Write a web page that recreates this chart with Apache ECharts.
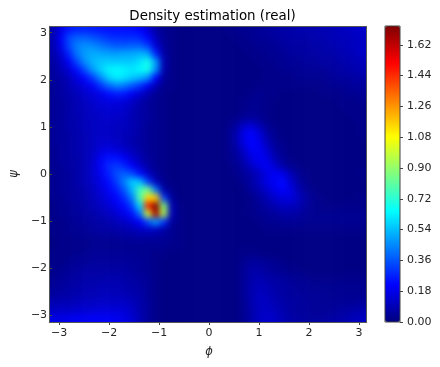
<!DOCTYPE html>
<html>
<head>
<meta charset="utf-8">
<title>Density estimation (real)</title>
<script src="https://cdn.jsdelivr.net/npm/echarts@6/dist/echarts.min.js"></script>
<style>
html, body { margin: 0; padding: 0; background: #fff; }
#clip { position: absolute; left: 49px; top: 26px; width: 317px; height: 296px; overflow: hidden; }
#heat { position: absolute; left: -8px; top: -8px; width: 333px; height: 312px; filter: blur(3px); }
#axes { position: absolute; left: 0; top: 0; width: 440px; height: 367px; }
#frame { position: absolute; left: 49px; top: 26px; width: 316px; height: 295px; border: 1px solid #555; pointer-events: none; }
</style>
</head>
<body>
<div id="clip"><div id="heat"></div></div>
<div id="axes"></div>
<div id="frame"></div>
<script>
// density, in hundredths, top row is psi = +pi, left column is phi = -pi
var densityRows = [
	[8,17,25,27,27,26,25,24,24,24, 24,22,15,7,3,2,1,1,1,1, 1,1,2,2,3,3,4,5,6,7, 7,8,8,8,9,9,10,11,12,13],
	[8,20,33,38,38,36,33,30,29,29, 29,28,22,10,4,2,1,1,1,1, 1,1,1,2,2,3,4,4,5,6, 7,7,7,8,8,9,10,10,11,12],
	[8,18,33,43,46,45,42,39,37,37, 38,38,32,15,5,2,1,1,1,1, 1,1,1,1,2,2,3,3,4,5, 6,6,6,7,7,8,9,10,11,12],
	[7,14,27,41,48,51,50,49,48,50, 50,52,50,27,7,2,1,1,1,1, 1,1,1,1,1,2,2,3,3,4, 5,5,6,6,7,7,8,9,10,12],
	[6,11,20,33,45,52,55,56,56,56, 56,60,68,48,9,2,1,1,1,1, 1,1,1,1,1,1,2,2,3,3, 4,4,5,5,6,6,7,8,9,10],
	[5,9,14,23,34,47,56,63,64,63, 61,64,68,46,8,2,1,1,1,1, 1,1,1,1,1,1,1,2,2,3, 3,3,4,4,4,5,6,7,8,9],
	[5,7,10,16,22,31,44,56,62,60, 56,52,46,22,5,2,1,1,1,1, 1,1,1,1,1,1,1,2,2,2, 2,3,3,3,3,4,5,5,6,7],
	[4,6,9,12,16,20,29,38,44,42, 36,30,20,9,3,2,1,1,1,1, 1,1,1,1,1,1,2,2,2,2, 2,2,2,2,2,3,3,4,5,5],
	[4,6,8,10,13,15,18,23,26,25, 20,14,8,4,2,1,1,1,1,1, 1,1,1,1,1,2,3,2,2,1, 1,1,1,1,2,2,2,3,3,4],
	[4,5,7,9,11,13,15,16,16,15, 12,8,5,3,2,1,1,1,1,1, 1,1,1,1,2,3,3,2,1,1, 1,1,1,1,1,1,2,2,2,3],
	[4,5,7,9,10,12,13,14,14,13, 10,7,5,3,2,1,1,1,1,1, 1,1,1,1,2,3,3,2,1,1, 1,1,1,1,1,1,1,2,2,2],
	[4,5,7,8,10,11,12,13,12,12, 9,7,5,3,2,1,1,1,1,1, 1,1,1,2,4,5,4,2,1,1, 1,1,1,1,1,1,1,1,2,2],
	[4,5,7,8,10,11,12,12,11,11, 9,7,4,3,2,1,1,1,1,1, 1,1,2,5,12,15,10,4,2,1, 1,1,1,1,1,1,1,1,1,2],
	[4,5,6,8,9,11,12,12,11,10, 9,6,4,3,2,1,1,1,1,1, 1,1,2,7,17,22,16,7,3,1, 1,1,1,1,1,1,1,1,1,2],
	[4,5,6,8,9,11,13,13,12,10, 8,6,4,3,2,1,1,1,1,1, 1,1,2,7,16,22,19,10,4,2, 1,1,1,1,1,1,1,1,1,1],
	[3,5,6,8,9,11,15,17,15,13, 10,7,4,3,2,1,1,1,1,1, 1,1,2,5,12,20,20,14,6,3, 1,1,1,1,1,1,1,1,1,1],
	[3,5,6,7,9,12,19,24,24,20, 14,9,5,3,2,1,1,1,1,1, 1,1,2,4,9,16,20,17,9,4, 2,1,1,1,1,1,1,1,1,1],
	[3,4,6,7,9,13,20,28,31,28, 21,13,7,3,2,1,1,1,1,1, 1,1,1,3,6,12,17,20,14,7, 3,2,1,1,1,1,1,1,1,1],
	[3,4,5,7,9,13,19,26,34,38, 34,24,12,5,2,1,1,1,1,1, 1,1,1,2,4,7,11,17,20,18, 10,4,2,1,1,1,1,1,1,2],
	[3,4,5,7,9,12,17,23,31,43, 56,54,32,10,3,1,1,1,1,1, 1,1,1,1,3,6,11,17,20,23, 14,6,3,1,1,1,1,1,1,1],
	[3,4,5,6,8,11,15,20,26,36, 52,76,85,42,7,2,1,1,1,1, 1,1,1,1,1,5,8,13,18,21, 17,9,4,2,1,1,1,1,1,1],
	[3,3,5,6,7,10,13,17,22,29, 43,78,115,115,32,5,1,1,1,1, 1,1,1,1,1,2,5,9,13,16, 16,11,6,3,2,1,1,1,1,2],
	[2,3,4,5,7,9,11,14,18,23, 33,60,145,173,88,9,2,1,1,1, 1,1,1,1,1,2,4,6,9,11, 11,9,5,3,2,2,2,2,2,2],
	[2,3,4,5,6,7,9,11,14,18, 24,40,100,165,95,10,2,1,1,1, 1,1,1,1,1,2,3,4,5,7, 7,6,4,3,3,3,3,3,3,3],
	[2,2,3,4,5,6,7,8,10,12, 15,21,34,48,30,5,2,1,1,1, 1,1,1,1,1,1,2,3,3,4, 4,4,3,3,3,3,3,3,3,3],
	[2,2,3,3,4,5,6,6,7,8, 9,11,12,11,7,3,2,1,1,1, 1,1,1,1,1,1,1,2,2,2, 2,2,2,2,2,2,2,2,2,2],
	[1,2,2,3,3,3,4,4,4,5, 5,6,5,5,4,3,2,1,1,1, 1,1,1,1,1,1,1,1,1,1, 1,1,1,1,1,1,1,1,1,1],
	[1,2,2,2,2,3,3,3,3,3, 3,3,3,3,3,2,2,1,1,1, 1,1,1,1,1,1,1,1,1,1, 1,1,1,1,1,1,1,1,1,1],
	[2,2,2,3,3,4,4,4,4,4, 4,3,3,2,2,1,1,1,1,1, 1,1,1,1,2,2,2,1,1,1, 1,1,1,1,1,1,1,1,1,1],
	[2,2,3,4,4,5,5,5,5,5, 4,4,3,2,1,1,1,1,1,1, 1,1,1,1,3,5,5,4,3,2, 1,1,1,1,1,1,1,1,1,1],
	[2,3,4,5,6,6,6,6,6,6, 5,4,3,2,1,1,1,1,1,1, 1,1,1,1,4,7,7,5,4,3, 2,2,1,1,1,1,1,1,1,1],
	[3,4,5,6,7,7,7,8,8,7, 6,5,4,2,1,1,1,1,1,1, 1,1,1,1,4,7,9,7,6,5, 4,3,3,2,2,2,2,2,2,2],
	[4,5,6,7,8,8,9,9,9,8, 7,6,4,2,1,1,1,1,1,1, 1,1,1,1,4,8,10,9,7,6, 5,4,4,3,3,3,3,3,3,3],
	[5,6,7,8,9,9,10,10,10,9, 8,7,4,2,1,1,1,1,1,1, 1,1,1,1,4,8,11,10,8,6, 5,5,4,4,4,3,3,3,3,3],
	[8,9,9,10,11,11,12,12,12,12, 10,8,5,2,1,1,1,1,1,1, 1,1,1,1,3,8,11,11,9,7, 6,5,5,4,4,4,4,4,4,5],
	[11,12,12,13,14,14,15,15,15,14, 12,8,5,2,1,1,1,1,1,1, 1,1,1,1,3,7,11,12,10,8, 6,5,5,4,4,4,5,6,7,8],
	[17,17,18,19,19,20,20,20,19,17, 14,9,5,2,1,1,1,1,1,1, 1,1,1,1,3,7,11,13,12,9, 7,6,5,5,5,6,7,8,10,11]
];
var angleTicks = [-3, -2, -1, 0, 1, 2, 3];
var barTicks = [0, 0.18, 0.36, 0.54, 0.72, 0.9, 1.08, 1.26, 1.44, 1.62];
var densityMax = 1.73;
var jet = ['#00007f', '#0000ff', '#007fff', '#00ffff', '#7fff7f', '#ffff00', '#ff7f00', '#ff0000', '#7f0000'];

var textColor = '#262626';
var lineColor = '#444';
var font = 'DejaVu Sans';

// the blur samples past the edge, so one extra row and column is repeated all round
var nRows = densityRows.length, nCols = densityRows[0].length;
var heatData = [], xCats = [], yCats = [];
for (var r = -1; r <= nRows; r++) {
	yCats.push('r' + r);
	for (var c = -1; c <= nCols; c++) {
		var row = densityRows[Math.min(nRows - 1, Math.max(0, r))];
		heatData.push([c + 1, nRows - r, row[Math.min(nCols - 1, Math.max(0, c))] / 100]);
	}
}
for (var c = -1; c <= nCols; c++) xCats.push('c' + c);

var heatChart = echarts.init(document.getElementById('heat'));
heatChart.setOption({
	animation: false,
	grid: { left: 0, right: 0, top: 0, bottom: 0 },
	xAxis: { type: 'category', data: xCats, show: false },
	yAxis: { type: 'category', data: yCats, show: false },
	visualMap: { show: false, min: 0, max: densityMax, inRange: { color: jet } },
	series: [{ type: 'heatmap', data: heatData, progressive: 0 }]
});

function angleLabel(v) {
	return String(v).replace('-', '\u2212');
}

var axesChart = echarts.init(document.getElementById('axes'));
axesChart.setOption({
	animation: false,
	title: {
		text: 'Density estimation (real)',
		left: 207.5, top: 5, textAlign: 'center',
		textStyle: { color: '#000', fontFamily: font, fontSize: 13.4, fontWeight: 'normal' }
	},
	grid: [
		{ left: 49, top: 26, width: 317, height: 296 },
		{ left: 385, top: 26, width: 15, height: 296, show: true, borderColor: lineColor, borderWidth: 1, backgroundColor: 'transparent', z: 10 }
	],
	xAxis: [
		{
			type: 'value', gridIndex: 0, min: -Math.PI, max: Math.PI,
			name: '\u03d5', nameLocation: 'middle', nameGap: 24,
			nameTextStyle: { color: textColor, fontFamily: font, fontSize: 11.5, fontStyle: 'italic' },
			splitLine: { show: false },
			axisLine: { show: false, onZero: false },
			axisTick: { show: true, customValues: angleTicks, length: 3, lineStyle: { color: lineColor } },
			axisLabel: { customValues: angleTicks, formatter: angleLabel, color: textColor, fontFamily: font, fontSize: 11, margin: 6 }
		},
		{ type: 'value', gridIndex: 1, min: 0, max: 1, show: false }
	],
	yAxis: [
		{
			type: 'value', gridIndex: 0, min: -Math.PI, max: Math.PI,
			name: '\u03c8', nameLocation: 'middle', nameGap: 30,
			nameTextStyle: { color: textColor, fontFamily: font, fontSize: 11.5, fontStyle: 'italic' },
			splitLine: { show: false },
			axisLine: { show: false, onZero: false },
			axisTick: { show: true, customValues: angleTicks, length: 3, lineStyle: { color: lineColor } },
			axisLabel: { customValues: angleTicks, formatter: angleLabel, color: textColor, fontFamily: font, fontSize: 11, margin: 5 }
		},
		{
			type: 'value', gridIndex: 1, min: 0, max: densityMax, position: 'right', z: 11,
			splitLine: { show: false },
			axisLine: { show: false, onZero: false },
			axisTick: { show: true, customValues: barTicks, length: 3, lineStyle: { color: lineColor } },
			axisLabel: {
				customValues: barTicks, color: textColor, fontFamily: font, fontSize: 11, margin: 7,
				formatter: function (v) { return v.toFixed(2); }
			}
		}
	],
	visualMap: {
		type: 'continuous', min: 0, max: densityMax, inRange: { color: jet },
		left: 385, top: 26, itemWidth: 15, itemHeight: 296, padding: 0, calculable: false, hoverLink: false
	},
	series: []
});
</script>
</body>
</html>
